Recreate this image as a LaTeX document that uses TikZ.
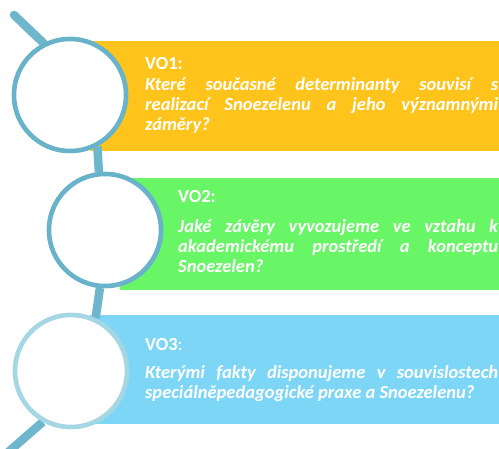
\documentclass[tikz,border=0pt]{standalone}
\usepackage{fontspec}
\setmainfont{Carlito}
\newcommand\myNoHyph{\hyphenpenalty=10000 \exhyphenpenalty=10000 }
\definecolor{ringA}{HTML}{68B3CA}
\definecolor{ringC}{HTML}{A4D6E4}
\definecolor{stick}{HTML}{6EB6CC}
\definecolor{boxY}{HTML}{FEC41C}
\definecolor{boxG}{HTML}{68F566}
\definecolor{boxB}{HTML}{7ED6F6}
\tikzset{
  ring/.style={circle, draw=ringA, line width=4.5pt, fill=white, minimum size=112pt, inner sep=0pt},
  stickline/.style={draw=stick, line width=8.5pt},
  head/.style={anchor=base west, inner sep=0pt, text=white, font=\fontsize{18.5}{20}\selectfont\bfseries},
  body/.style={anchor=north west, inner sep=0pt, text=white, align=justify, font=\fontsize{18.5}{20}\selectfont\bfseries\itshape}
}
\begin{document}
\begin{tikzpicture}[x=1pt,y=1pt]
\useasboundingbox (0,0) rectangle (499,449);
% boxes
\fill[boxY] (90,298) rectangle (499,408);
\fill[boxG] (120,159) rectangle (499,271);
\fill[boxB] (90,25) rectangle (499,134);
% circles
\node[ring] (c1) at (70,354) {};
\node[ring] (c2) at (105,219) {};
\node[ring, draw=ringC] (c3) at (71,78) {};
% handles and links
\coordinate (h1) at (14,434);
\coordinate (h2) at (6,-5);
\draw[stickline, line cap=round] (h1) -- (c1.117);
\draw[stickline] (c1.-62) -- (c2.96);
\draw[stickline] (c2.-95) -- (c3.65);
\draw[stickline] (c3.-119) -- (h2);
% redraw circle rings on top
\node[ring] at (c1) {};
\node[ring] at (c2) {};
\node[ring, draw=ringC] at (c3) {};
% texts
\node[head] (t1) at (145,379) {VO1:};
\node[body, text width=353pt] (b1) at (145,373) {\myNoHyph\strut Které současné determinanty souvisí s\linebreak realizací Snoezelenu a jeho významnými\linebreak záměry?};
\node[head] (t2) at (178,246) {VO2:};
\node[body, text width=320pt] (b2) at (178,231) {\myNoHyph\strut Jaké závěry vyvozujeme ve vztahu k\linebreak akademickému prostředí a konceptu\linebreak Snoezelen?};
\node[head] (t3) at (145,98) {VO3\mdseries:};
\node[body, text width=353pt] (b3) at (145,85) {\myNoHyph\strut Kterými fakty disponujeme v souvislostech\linebreak speciálněpedagogické praxe a Snoezelenu?};
\end{tikzpicture}
\end{document}
